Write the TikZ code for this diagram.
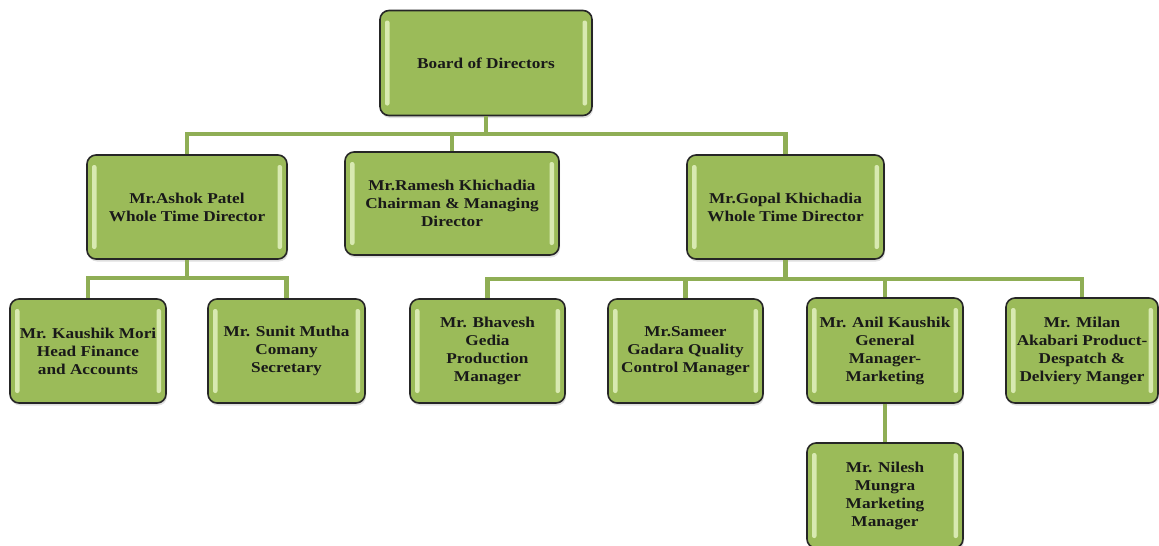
\documentclass[tikz,border=0pt]{standalone}
\usepackage{fontspec}
\setmainfont{Liberation Serif}[FakeStretch=1.15]
\usetikzlibrary{shadows}

\definecolor{boxgreen}{HTML}{9BBB59}
\definecolor{linegreen}{HTML}{8FAE55}
\definecolor{glossgreen}{HTML}{E8F5C8}

\tikzset{
  person/.style={rectangle, rounded corners=9pt, draw=black!85, line width=1.6pt,
    fill=boxgreen, align=center, inner sep=2pt, text=black!90,
    font=\fontsize{15}{18}\selectfont\bfseries,
    drop shadow={opacity=0.25, shadow xshift=1pt, shadow yshift=-2.5pt},
    path picture={
      \fill[glossgreen, opacity=0.8, rounded corners=2pt]
        ([xshift=5pt,yshift=-10pt]path picture bounding box.north west) rectangle
        ([xshift=9.5pt,yshift=10pt]path picture bounding box.south west);
      \fill[glossgreen, opacity=0.8, rounded corners=2pt]
        ([xshift=-5pt,yshift=-10pt]path picture bounding box.north east) rectangle
        ([xshift=-9.5pt,yshift=10pt]path picture bounding box.south east);
    }},
  link/.style={draw=linegreen, line width=4.5pt}
}

\begin{document}
\begin{tikzpicture}[x=1pt, y=1pt]
\useasboundingbox (0,0) rectangle (1159,-546);

% Board
\node[person, minimum width=212pt, minimum height=105pt] (board) at (486,-63) {Board of Directors};

% Directors
\node[person, minimum width=200pt, minimum height=104pt] (ashok) at (187,-207) {Mr.Ashok Patel\\Whole Time Director};
\node[person, minimum width=214pt, minimum height=103pt] (ramesh) at (452,-203.5) {Mr.Ramesh Khichadia\\Chairman \& Managing\\Director};
\node[person, minimum width=197pt, minimum height=104pt] (gopal) at (785.5,-207) {Mr.Gopal Khichadia\\Whole Time Director};

% Under Ashok
\node[person, minimum width=156pt, minimum height=104pt] (kaushik) at (88,-351) {Mr. Kaushik Mori\\Head Finance\\and Accounts};
\node[person, minimum width=157pt, minimum height=104pt] (sunit) at (286.5,-351) {Mr. Sunit Mutha\\Comany\\Secretary};

% Under Gopal
\node[person, minimum width=155pt, minimum height=104pt] (bhavesh) at (487.5,-351) {Mr. Bhavesh\\Gedia\\Production\\Manager};
\node[person, minimum width=155pt, minimum height=104pt] (sameer) at (685.5,-351) {Mr.Sameer\\Gadara Quality\\Control Manager};
\node[person, minimum width=156pt, minimum height=105pt] (anil) at (885,-350.5) {Mr. Anil Kaushik\\General\\Manager-\\Marketing};
\node[person, minimum width=152pt, minimum height=105pt] (milan) at (1082,-350.5) {Mr. Milan\\Akabari Product-\\Despatch \&\\Delviery Manger};
\node[person, minimum width=156pt, minimum height=105pt] (nilesh) at (885,-495.5) {Mr. Nilesh\\Mungra\\Marketing\\Manager};

% Connectors
\coordinate (bus1) at (486,-134);
\coordinate (bus2) at (187,-278);
\coordinate (bus3) at (785.5,-279);
\draw[link] (board.south) -- (bus1);
\draw[link] (ashok.north) |- (bus1) -| (gopal.north);
\draw[link] (ramesh.north) -- (ramesh.north |- bus1);
\draw[link] (ashok.south) -- (bus2);
\draw[link] (kaushik.north) |- (bus2) -| (sunit.north);
\draw[link] (gopal.south) -- (bus3);
\draw[link] (bhavesh.north) |- (bus3) -| (milan.north);
\draw[link] (sameer.north) -- (sameer.north |- bus3);
\draw[link] (anil.north) -- (anil.north |- bus3);
\draw[link] (anil.south) -- (nilesh.north);
\end{tikzpicture}
\end{document}
